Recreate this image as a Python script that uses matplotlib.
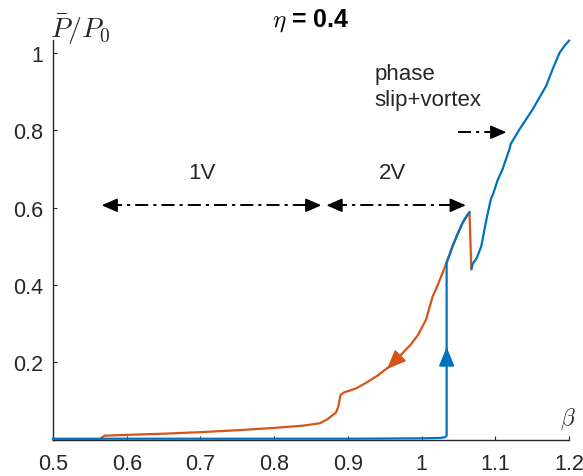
import numpy as np
import matplotlib
matplotlib.use("Agg")
import matplotlib.pyplot as plt

plt.rcParams['font.family'] = ['Liberation Sans', 'DejaVu Sans']
plt.rcParams['mathtext.fontset'] = 'cm'

# ---- data ----
blue_x = [0.5, 0.7, 0.9, 1.0, 1.025, 1.032, 1.034, 1.034, 1.038, 1.042, 1.049, 1.056, 1.061, 1.065,
          np.nan, 1.0675, 1.0695, 1.075, 1.081, 1.085, 1.088, 1.094, 1.097, 1.103, 1.110, 1.119,
          1.121, 1.133, 1.151, 1.169, 1.178, 1.187, 1.194, 1.200]
blue_y = [0.002, 0.002, 0.002, 0.003, 0.004, 0.006, 0.010, 0.458, 0.478, 0.500, 0.533, 0.562, 0.578, 0.588,
          np.nan, 0.441, 0.455, 0.470, 0.500, 0.540, 0.570, 0.622, 0.635, 0.670, 0.700, 0.750,
          0.765, 0.803, 0.855, 0.915, 0.959, 1.000, 1.019, 1.032]

orange_x = [1.0675, 1.065, 1.056, 1.042, 1.034, 1.032, 1.022, 1.015, 1.006, 0.995, 0.985, 0.970,
            0.957, 0.940, 0.925, 0.911, 0.895, 0.890, 0.887, 0.884, 0.872, 0.862, 0.840, 0.800,
            0.750, 0.700, 0.650, 0.600, 0.570, 0.566, 0.565, 0.500]
orange_y = [0.441, 0.588, 0.562, 0.500, 0.458, 0.448, 0.400, 0.370, 0.310, 0.270, 0.245, 0.215,
            0.190, 0.165, 0.147, 0.132, 0.122, 0.115, 0.085, 0.070, 0.052, 0.042, 0.036, 0.030,
            0.024, 0.019, 0.015, 0.012, 0.010, 0.005, 0.000, 0.000]

region_1v = [0.566, 0.864]
region_2v = [0.871, 1.060]
region_y = 0.606
slip_arrow = [1.049, 1.115]
slip_y = 0.795

x_ticks = [0.5, 0.6, 0.7, 0.8, 0.9, 1.0, 1.1, 1.2]
x_ticklabels = ['0.5', '0.6', '0.7', '0.8', '0.9', '1', '1.1', '1.2']
y_ticks = [0.2, 0.4, 0.6, 0.8, 1.0]
y_ticklabels = ['0.2', '0.4', '0.6', '0.8', '1']

BLUE = '#0072BD'
ORANGE = '#D95319'
DARK = '#262626'

fig = plt.figure(figsize=(5.83, 4.77), dpi=100)
ax = fig.add_axes([53/583, 1-440.5/477, (569-53)/583, 400/477])
ax.set_xlim(0.5, 1.2)
ax.set_ylim(0, 1.035)

ax.plot(orange_x, orange_y, color=ORANGE, lw=1.6, zorder=2, clip_on=False)
ax.plot(blue_x, blue_y, color=BLUE, lw=1.6, zorder=3, clip_on=False)

def head(tip, tail, color, hl, hw, ms):
    ax.annotate('', xy=tip, xytext=tail,
                arrowprops=dict(arrowstyle=f'-|>,head_length={hl},head_width={hw}',
                                color=color, lw=1.2, shrinkA=0, shrinkB=0,
                                mutation_scale=ms), zorder=4)

# arrows on curves
head((1.034, 0.239), (1.034, 0.19), BLUE, 0.85, 0.35, 14)
head((0.953, 0.182), (0.966, 0.207), ORANGE, 0.85, 0.35, 14)

# black dash-dot arrows
dd = (6.7, 2.6, 1.6, 2.6)
for (a, b) in [region_1v, region_2v]:
    ax.plot([a + 0.01, b - 0.01], [region_y, region_y], color='black', lw=1.4, dashes=dd, zorder=4)
    head((a, region_y), (a + 0.015, region_y), 'black', 0.8, 0.35, 12)
    head((b, region_y), (b - 0.015, region_y), 'black', 0.8, 0.35, 12)
ax.plot([slip_arrow[0], slip_arrow[1] - 0.01], [slip_y, slip_y], color='black', lw=1.4, dashes=dd, zorder=4)
head((slip_arrow[1], slip_y), (slip_arrow[1] - 0.015, slip_y), 'black', 0.8, 0.35, 12)

TXT = 16
ax.text(0.702, 0.69, '1V', fontsize=TXT, color=DARK, ha='center', va='center')
ax.text(0.960, 0.69, '2V', fontsize=TXT, color=DARK, ha='center', va='center')
ax.text(0.936, 0.948, 'phase', fontsize=TXT, color=DARK, ha='left', va='center')
ax.text(0.936, 0.880, 'slip+vortex', fontsize=TXT, color=DARK, ha='left', va='center')

# axes styling
for s in ['top', 'right']:
    ax.spines[s].set_visible(False)
for s in ['left', 'bottom']:
    ax.spines[s].set_color(DARK)
    ax.spines[s].set_linewidth(1.0)
ax.set_xticks(x_ticks)
ax.set_xticklabels(x_ticklabels)
ax.set_yticks(y_ticks)
ax.set_yticklabels(y_ticklabels)
ax.tick_params(axis='both', direction='in', length=3, width=0.8, colors=DARK, labelsize=15.5)
ax.tick_params(axis='x', pad=9.5)
ax.tick_params(axis='y', pad=7)

fig.text(80/583, 1-30/477, r'$\bar{P}/P_0$', fontsize=20, color=DARK, ha='center', va='center')
fig.text(568/583, 1-419/477, r'$\beta$', fontsize=17, color=DARK, ha='center', va='center')
fig.text(311/583, 1-21/477, r'$\eta$ = 0.4', fontsize=18, fontweight='bold', color='black',
         ha='center', va='center')

fig.savefig('out.png', dpi=100)
